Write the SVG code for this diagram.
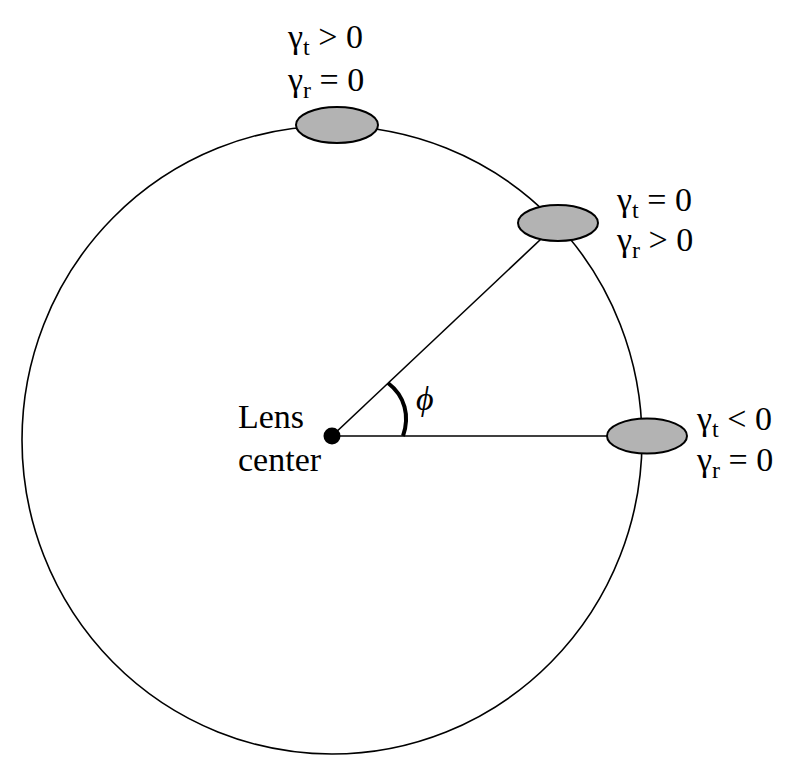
<svg xmlns="http://www.w3.org/2000/svg" width="792" height="778" viewBox="0 0 792 778">
<style>
  text { font-family: 'Liberation Serif', 'Times New Roman', serif; font-size: 34px; fill: #000; }
  .sub { font-size: 24px; }
  .spot { fill: #b3b3b3; stroke: #000; stroke-width: 2; }
  .ln { stroke: #000; stroke-width: 1.6; fill: none; }
</style>
<rect width="792" height="778" fill="#fff"/>
<g id="orbit">
  <ellipse cx="332" cy="440" rx="310" ry="314" class="ln"/>
</g>
<g id="connectors">
  <line x1="332" y1="436" x2="647" y2="436" class="ln"/>
  <line x1="332" y1="436" x2="558" y2="223" class="ln"/>
  <path d="M403,436 C410,416 405,396 388,383" fill="none" stroke="#000" stroke-width="4"/>
</g>
<g id="angle-label">
  <text x="416" y="410" font-style="italic">ϕ</text>
</g>
<g id="lens-center">
  <circle cx="332" cy="436" r="8.5" fill="#000"/>
  <text><tspan x="238" y="428">Lens</tspan><tspan x="238" y="471">center</tspan></text>
</g>
<g id="source-top">
  <ellipse cx="337" cy="125" rx="41" ry="18" class="spot"/>
  <text x="288" y="48">γ<tspan class="sub" dy="7">t</tspan><tspan dy="-7"> &gt; 0</tspan></text>
  <text x="288" y="91">γ<tspan class="sub" dy="7">r</tspan><tspan dy="-7"> = 0</tspan></text>
</g>
<g id="source-diagonal">
  <ellipse cx="558" cy="223" rx="40" ry="18" class="spot"/>
  <text x="617" y="211">γ<tspan class="sub" dy="7">t</tspan><tspan dy="-7"> = 0</tspan></text>
  <text x="617" y="251">γ<tspan class="sub" dy="7">r</tspan><tspan dy="-7"> &gt; 0</tspan></text>
</g>
<g id="source-right">
  <ellipse cx="647" cy="436" rx="40" ry="17.5" class="spot"/>
  <text x="697" y="430">γ<tspan class="sub" dy="7">t</tspan><tspan dy="-7"> &lt; 0</tspan></text>
  <text x="697" y="471">γ<tspan class="sub" dy="7">r</tspan><tspan dy="-7"> = 0</tspan></text>
</g>
</svg>
